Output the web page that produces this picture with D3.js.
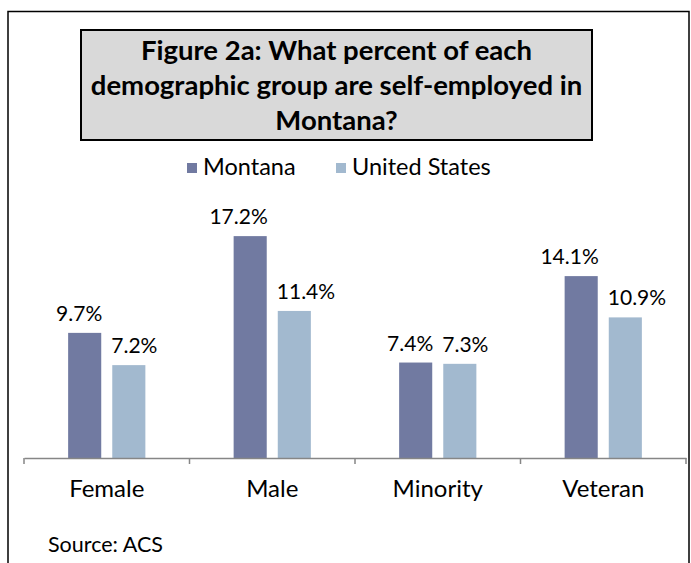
<!DOCTYPE html>
<html>
<head>
<meta charset="utf-8">
<script src="https://cdn.jsdelivr.net/npm/d3@7"></script>
<style>
    body { margin: 0; background: #ffffff; }
    svg text { font-family: Lato, "Open Sans", sans-serif; fill: #000000; }
</style>
</head>
<body>
<div id="chart"></div>
<script>
// Chart data
const categories = ["Female", "Male", "Minority", "Veteran"];
const seriesNames = ["Montana", "United States"];
const montanaValues = [9.7, 17.2, 7.4, 14.1];
const usValues = [7.2, 11.4, 7.3, 10.9];
const titleLines = ["Figure 2a: What percent of each", "demographic group are self-employed in", "Montana?"];
const sourceText = "Source: ACS";

const colors = {"Montana": "#717aa1", "United States": "#a2b9cf"};

let width = 691, height = 563;

let svg = d3.select("#chart").append("svg")
    .attr("width", width)
    .attr("height", height);

// Outer frame (bottom edge is cut off in the original)
svg.append("path")
    .attr("d", "M8,563 V11.5 H689 V563")
    .attr("fill", "none")
    .attr("stroke", "#000")
    .attr("stroke-width", 1.5);

// Title box
svg.append("rect")
    .attr("x", 81)
    .attr("y", 30)
    .attr("width", 511)
    .attr("height", 110)
    .attr("fill", "#d9d9d9")
    .attr("stroke", "#000")
    .attr("stroke-width", 2);

svg.selectAll(".title-line")
    .data(titleLines)
    .enter().append("text")
    .attr("class", "title-line")
    .attr("x", 336.5)
    .attr("y", (d, i) => 60 + i * 35)
    .attr("text-anchor", "middle")
    .style("font-weight", "bold")
    .style("font-size", "27.5px")
    .text(d => d);

// Scales
let baseline = 458;
let x0 = d3.scaleBand()
    .domain(categories)
    .range([24, 686])
    .padding(0);

let x1 = d3.scaleBand()
    .domain(seriesNames)
    .range([0, x0.bandwidth()])
    .paddingInner(0.25)
    .paddingOuter(1);

let y = d3.scaleLinear()
    .domain([0, 20])
    .range([baseline, baseline - 258]);

// Build rows for drawing
let rows = categories.map((c, i) => ({
    category: c,
    values: [
        {series: "Montana", value: montanaValues[i]},
        {series: "United States", value: usValues[i]}
    ]
}));

let groups = svg.selectAll(".group")
    .data(rows)
    .enter().append("g")
    .attr("class", "group")
    .attr("transform", d => `translate(${x0(d.category)},0)`);

groups.selectAll("rect")
    .data(d => d.values)
    .enter().append("rect")
    .attr("x", d => x1(d.series))
    .attr("y", d => y(d.value))
    .attr("width", x1.bandwidth())
    .attr("height", d => y(0) - y(d.value))
    .attr("fill", d => colors[d.series]);

// Labels hug the outer edge of each bar pair: Montana ends at its bar's right edge,
// United States starts at its bar's left edge (as in the original)
groups.selectAll(".value-label")
    .data(d => d.values)
    .enter().append("text")
    .attr("class", "value-label")
    .attr("x", d => d.series == "Montana" ? x1(d.series) + x1.bandwidth() + 1 : x1(d.series) - 1)
    .attr("y", d => y(d.value) - 12)
    .attr("text-anchor", d => d.series == "Montana" ? "end" : "start")
    .style("font-size", "21px")
    .text(d => d.value.toFixed(1) + "%");

// X axis
let xAxis = d3.axisBottom(x0)
    .tickSize(0)
    .tickPadding(22);

let axisG = svg.append("g")
    .attr("class", "x-axis")
    .attr("transform", `translate(0, ${baseline})`)
    .call(xAxis);

axisG.select(".domain")
    .attr("stroke", "#868686")
    .attr("stroke-width", 1.5);

axisG.selectAll("text")
    .style("font-size", "24px")
    .style("font-family", "Lato, 'Open Sans', sans-serif")
    .attr("fill", "#000");

// tick marks at category boundaries
let boundaries = categories.map(c => x0(c)).concat([x0.range()[1]]);
axisG.selectAll(".boundary")
    .data(boundaries)
    .enter().append("line")
    .attr("class", "boundary")
    .attr("x1", d => d)
    .attr("x2", d => d)
    .attr("y1", 0)
    .attr("y2", 6)
    .attr("stroke", "#868686")
    .attr("stroke-width", 1.5);

// Legend
let legendX = [187, 336];
let legend = svg.selectAll(".legend")
    .data(seriesNames)
    .enter().append("g")
    .attr("class", "legend")
    .attr("transform", (d, i) => `translate(${legendX[i]}, 163)`);

legend.append("rect")
    .attr("width", 10)
    .attr("height", 10)
    .attr("fill", d => colors[d]);

legend.append("text")
    .attr("x", 16)
    .attr("y", 12)
    .style("font-size", "23.5px")
    .text(d => d);

// Source note
svg.append("text")
    .attr("x", 48)
    .attr("y", 552)
    .style("font-size", "21.5px")
    .text(sourceText);
</script>
</body>
</html>
